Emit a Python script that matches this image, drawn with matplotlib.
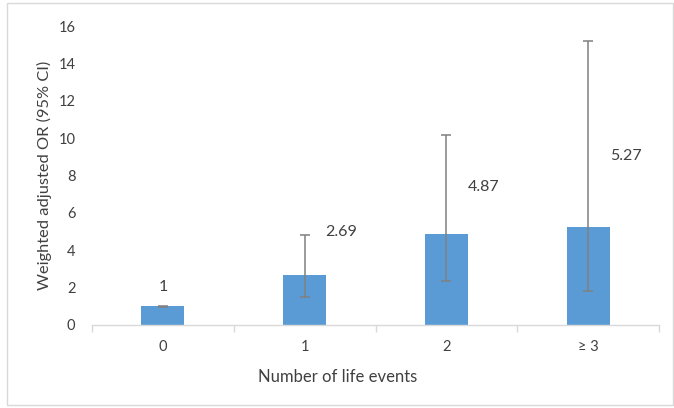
import matplotlib
matplotlib.use("Agg")
import matplotlib.pyplot as plt
from matplotlib.patches import FancyBboxPatch
import numpy as np

categories = ["0", "1", "2", "\u2265 3"]
or_values = [1.0, 2.69, 4.87, 5.27]
ci_lower = [0.98, 1.52, 2.33, 1.83]
ci_upper = [1.02, 4.79, 10.16, 15.19]
value_labels = ["1", "2.69", "4.87", "5.27"]
yticks = [0, 2, 4, 6, 8, 10, 12, 14, 16]

# label placement offsets (points) relative to each bar top
label_dx = [0, 26, 27, 27]
label_dy = [14, 31, 34, 51]

plt.rcParams['font.family'] = ['Lato', 'DejaVu Sans']
fig = plt.figure(figsize=(6.74, 4.08), dpi=100)
ax = fig.add_axes([92/674, 1-325/408, (659-92)/674, (325-26)/408])

x = np.arange(len(categories))
vals = np.array(or_values)
yerr = np.array([vals - np.array(ci_lower), np.array(ci_upper) - vals])
ax.bar(x, vals, width=0.305, color="#5B9BD5", zorder=2)
ax.errorbar(x, vals, yerr=yerr, fmt="none", ecolor="#808080", elinewidth=1.1,
            capsize=3.5, capthick=1.1, zorder=3)

for i, (v, lab) in enumerate(zip(or_values, value_labels)):
    ax.annotate(lab, xy=(i, v), xytext=(label_dx[i], label_dy[i]), textcoords="offset points",
                ha="center", va="center", fontsize=11.5, color="#404040")

ax.set_xlim(-0.5, len(categories) - 0.5)
ax.set_ylim(0, 16)
ax.set_yticks(yticks)
ax.set_yticklabels([str(t) for t in yticks], fontsize=10.5, color="#404040")
ax.set_xticks(x)
ax.set_xticklabels(categories, fontsize=10.5, color="#404040")
ax.tick_params(axis="x", length=0, pad=11)
ax.tick_params(axis="y", length=0, pad=12)
# category boundary ticks
ax.set_xticks(np.arange(-0.5, len(categories), 1.0), minor=True)
ax.tick_params(axis="x", which="minor", length=5, color="#D9D9D9", width=1)

for s in ["top", "right", "left"]:
    ax.spines[s].set_visible(False)
ax.spines["bottom"].set_color("#D9D9D9")
ax.spines["bottom"].set_linewidth(1)

ax.set_ylabel("Weighted adjusted OR (95% CI)", fontsize=11.8, color="#404040")
ax.set_xlabel("Number of life events", fontsize=12, color="#404040")
ax.yaxis.set_label_coords((44 - 92) / 567, 0.5)
ax.xaxis.set_label_coords((338 - 92) / 567, -(377 - 325) / 299)
ax.xaxis.label.set_va("center")
ax.yaxis.label.set_va("center")

border = FancyBboxPatch((7/674, 3/408), 666/674, 402/408, boxstyle="square,pad=0",
                        transform=fig.transFigure, fill=False, edgecolor="#D9D9D9", linewidth=1)
fig.patches.append(border)

fig.savefig("out.png", dpi=100)
